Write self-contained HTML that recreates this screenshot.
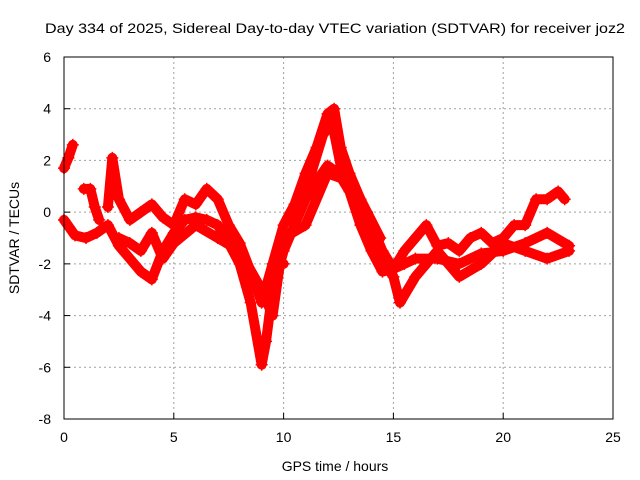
<!DOCTYPE html>
<html><head><meta charset="utf-8"><style>
body{margin:0;background:#fff}
svg{display:block;font-family:"Liberation Sans",sans-serif}
</style></head><body>
<svg id="chart" width="640" height="480">
<text x="45" y="33" font-size="14" textLength="580" lengthAdjust="spacingAndGlyphs">Day 334 of 2025, Sidereal Day-to-day VTEC variation (SDTVAR) for receiver joz2</text>
<text x="335" y="471" font-size="14" text-anchor="middle">GPS time / hours</text>
<text x="0" y="0" font-size="14" text-anchor="middle" transform="translate(19,238) rotate(-90)">SDTVAR / TECUs</text>
<g id="grid"></g>
<g id="axes"></g>
<g id="marks"></g>
<rect x="64" y="57" width="549" height="362" fill="none" stroke="#000" stroke-width="1"/>
</svg>
<script>
const xTicks=[0,5,10,15,20,25];
const yTicks=[-8,-6,-4,-2,0,2,4,6];
const s1t=[0,0.5,1,1.5,2,2.5,3,3.5,4,4.5,5,5.5,6,6.5,7,7.5,8,8.5,9,9.2,9.5,10,10.5,11,11.5,12,12.5,13,13.5,14,14.5,15,15.5,16,17,18,19,20,21,22,23];
const s1v=[-0.3,-0.9,-1.0,-0.8,-0.5,-1.3,-1.8,-2.3,-2.6,-1.5,-0.8,-0.3,-0.2,-0.3,-0.5,-1.2,-2.0,-3.5,-5.9,-5.0,-3.0,-1.5,-0.5,0.5,1.2,1.8,1.5,0.8,-0.5,-1.5,-2.3,-2.2,-2.0,-1.8,-1.8,-2.0,-1.6,-1.5,-1.2,-0.8,-1.3];
const s2t=[2,2.2,2.5,3,3.5,4,4.5,5,5.5,6,6.5,7,7.5,8,8.5,9,9.5,10,10.5,11,11.5,12,12.3,12.6,13,13.5,14,14.5,15,15.5,16,16.5,17,17.5,18,18.5,19,19.5,20,20.5,21,21.5,22,22.5,22.8];
const s2v=[0.2,2.1,0.5,-0.3,0,0.3,-0.2,-0.5,0.5,0.3,0.9,0.5,-0.5,-1.2,-2.3,-3.5,-2.0,-0.5,0.3,1.5,2.5,3.8,4.0,2.5,1.5,0.5,-0.5,-1.5,-2.2,-1.5,-1.0,-0.5,-1.3,-1.2,-1.5,-1.0,-0.8,-1.2,-1.0,-0.5,-0.5,0.5,0.5,0.8,0.5];
const s3t=[2.5,3,3.5,4,4.5,5,6,7,8,9,9.5,10,11,12,13,13.5,14,15,15.3,16,17,18,19,20,21,22,23];
const s3v=[-1,-1.2,-1.5,-0.8,-1.8,-1.2,-0.5,-1.0,-1.5,-3,-4,-1.0,-0.5,1.5,1.2,0,-1.2,-2.5,-3.5,-2.5,-1.5,-2.5,-2.0,-1.2,-1.5,-1.8,-1.5];
const s4t=[0,0.2,0.4];
const s4v=[1.7,2.1,2.6];
const s5t=[0.9,1.2,1.4,1.6];
const s5v=[0.9,0.9,0.2,-0.3];
const s6t=[9.7,10.0];
const s6v=[-2.0,-2.0];
const s7t=[10.2,11,11.8,12.2,12.6,13.2,13.8,14.4];
const s7v=[-0.2,0.8,3.0,3.5,1.8,1.0,0.0,-1.0];
const X=t=>64+t*549/25, Y=v=>57+(6-v)*362/14;
const NS='http://www.w3.org/2000/svg';
const grid=document.getElementById('grid'),axes=document.getElementById('axes'),marks=document.getElementById('marks');
function mk(tag,at,parent){const e=document.createElementNS(NS,tag);for(const k in at)e.setAttribute(k,at[k]);parent.appendChild(e);return e;}
xTicks.forEach(t=>{
 if(t>0&&t<25){const g=mk('line',{x1:X(t),x2:X(t),y1:57,y2:419,stroke:'#a0a0a0','stroke-dasharray':'2,3'},grid);
 
 }
 const l=mk('text',{x:X(t),y:442,'font-size':14,'text-anchor':'middle'},axes);l.textContent=t;
 
 
 mk('line',{x1:X(t),x2:X(t),y1:419,y2:413,stroke:'#000'},axes);
});
yTicks.forEach(v=>{
 if(v>-8&&v<6){const g=mk('line',{x1:64,x2:613,y1:Y(v),y2:Y(v),stroke:'#a0a0a0','stroke-dasharray':'2,3'},grid);
 
 }
 const l=mk('text',{x:51,y:Y(v)+5,'font-size':14,'text-anchor':'end'},axes);l.textContent=v;
 
 
 mk('line',{x1:64,x2:70,y1:Y(v),y2:Y(v),stroke:'#000'},axes);
});
[[s1t,s1v],[s2t,s2v],[s3t,s3v],[s4t,s4v],[s5t,s5v],[s6t,s6v],[s7t,s7v]].forEach(([ts,vs],i)=>{
 const p=mk('polyline',{points:ts.map((t,j)=>X(t)+','+Y(vs[j])).join(' '),fill:'none',stroke:'#f00','stroke-width':10,'stroke-linejoin':'round','stroke-linecap':'round'},marks);
 
 
 ts.forEach((t,j)=>{const x=X(t),y=Y(vs[j]);
  const m=mk('path',{d:`M${x-6},${y}H${x+6}M${x},${y-6}V${y+6}`,stroke:'#f00','stroke-width':1.5},marks);
  
  });
});
</script>
</body></html>
